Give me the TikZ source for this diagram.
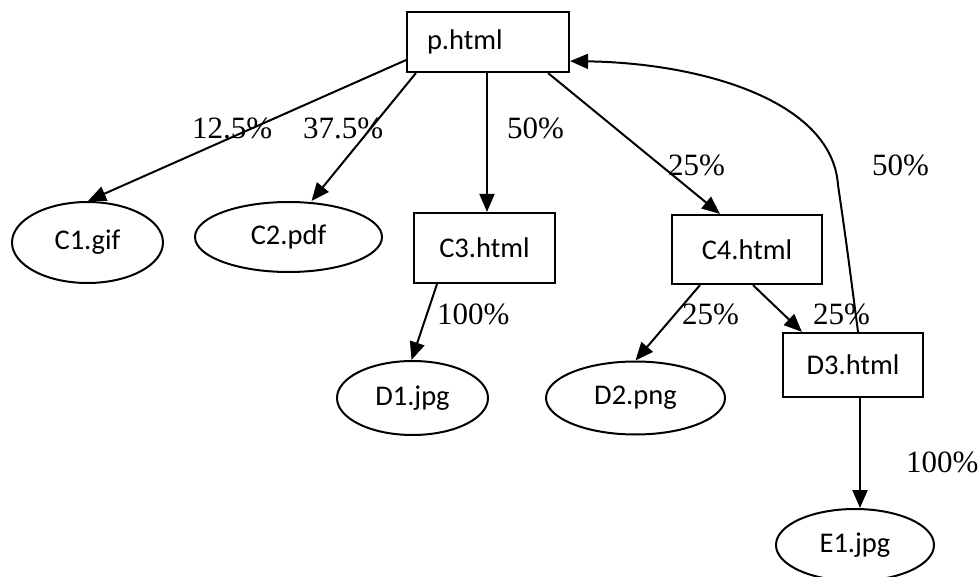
\documentclass[tikz,border=0pt]{standalone}
\usepackage{fontspec}
\setmainfont{Liberation Serif}
\newfontfamily\nodefont{Carlito}
\usetikzlibrary{shapes.geometric,arrows.meta}

\tikzset{
  page/.style={draw, line width=2.2pt, rectangle, inner sep=0pt,
    font=\nodefont\fontsize{28.5}{34}\selectfont},
  media/.style={draw, line width=2pt, ellipse, inner sep=0pt,
    font=\nodefont\fontsize{28.5}{34}\selectfont},
  link/.style={line width=2pt, -{Triangle[length=18pt,width=15pt]}},
  pct/.style={inner sep=0pt, font=\fontsize{31}{36}\selectfont}
}

\begin{document}
\begin{tikzpicture}[x=1pt, y=-1pt]
  \useasboundingbox (0,0) rectangle (980,577);

  % pages (rectangles)
  \node[page, text width=122pt, align=left, inner xsep=20pt,
        minimum height=60pt] (p) at (488,42) {p.html};
  \node[page, minimum width=141pt, minimum height=70pt] (c3) at (484.5,248) {C3.html};
  \node[page, minimum width=150pt, minimum height=69pt] (c4) at (747,249.5) {C4.html};
  \node[page, minimum width=140pt, minimum height=64pt] (d3) at (853,365) {D3.html};

  % embedded objects (ellipses)
  \node[media, minimum width=151pt, minimum height=81pt] (c1) at (87.5,242.5) {C1.gif};
  \node[media, minimum width=187pt, minimum height=70pt] (c2) at (288.5,237) {C2.pdf};
  \node[media, minimum width=151pt, minimum height=74pt] (d1) at (412.5,398) {D1.jpg};
  \node[media, minimum width=179pt, minimum height=73pt] (d2) at (635.5,398) {D2.png};
  \node[media, minimum width=158pt, minimum height=72pt] (e1) at (855,545) {E1.jpg};

  % links
  \draw[link] ([yshift=13pt]p.south west) -- ([xshift=0.5pt]c1.north);
  \draw[link] ([xshift=10pt]p.south west) -- ([xshift=23pt]c2.north);
  \draw[link] ([xshift=-1pt]p.south) -- ([xshift=2.5pt]c3.north);
  \draw[link] ([xshift=-22pt]p.south east) -- ([xshift=-27pt]c4.north);
  \draw[link] ([xshift=-47pt]c4.south) -- (d2.north);
  \draw[link] ([xshift=6pt]c4.south) -- ([xshift=20pt]d3.north west);
  \draw[link] ([xshift=-47.5pt]c3.south) -- ([xshift=-1pt]d1.north);
  \draw[link] ([xshift=7pt]d3.south) -- ([xshift=5pt]e1.north);
  \draw[link] ([xshift=5pt]d3.north) .. controls (846,240) .. (838,185)
        .. controls (832,100) and (700,63) .. ([yshift=12pt]p.south east);

  % transition shares
  \node[pct, anchor=south west] (l1) at (192,139) {12.5\%};
  \node[pct, anchor=south west] (l2) at (303,139) {37.5\%};
  \node[pct, anchor=south west] (l3) at (507,139) {50\%};
  \node[pct, anchor=south west] (l4) at (668,176) {25\%};
  \node[pct, anchor=south west] (l5) at (872,176) {50\%};
  \node[pct, anchor=south west] (l6) at (682,325) {25\%};
  \node[pct, anchor=south west] (l7) at (813,325) {25\%};
  \node[pct, anchor=south west] (l8) at (437,325) {100\%};
  \node[pct, anchor=south west] (l9) at (906,473) {100\%};
\end{tikzpicture}
\end{document}
